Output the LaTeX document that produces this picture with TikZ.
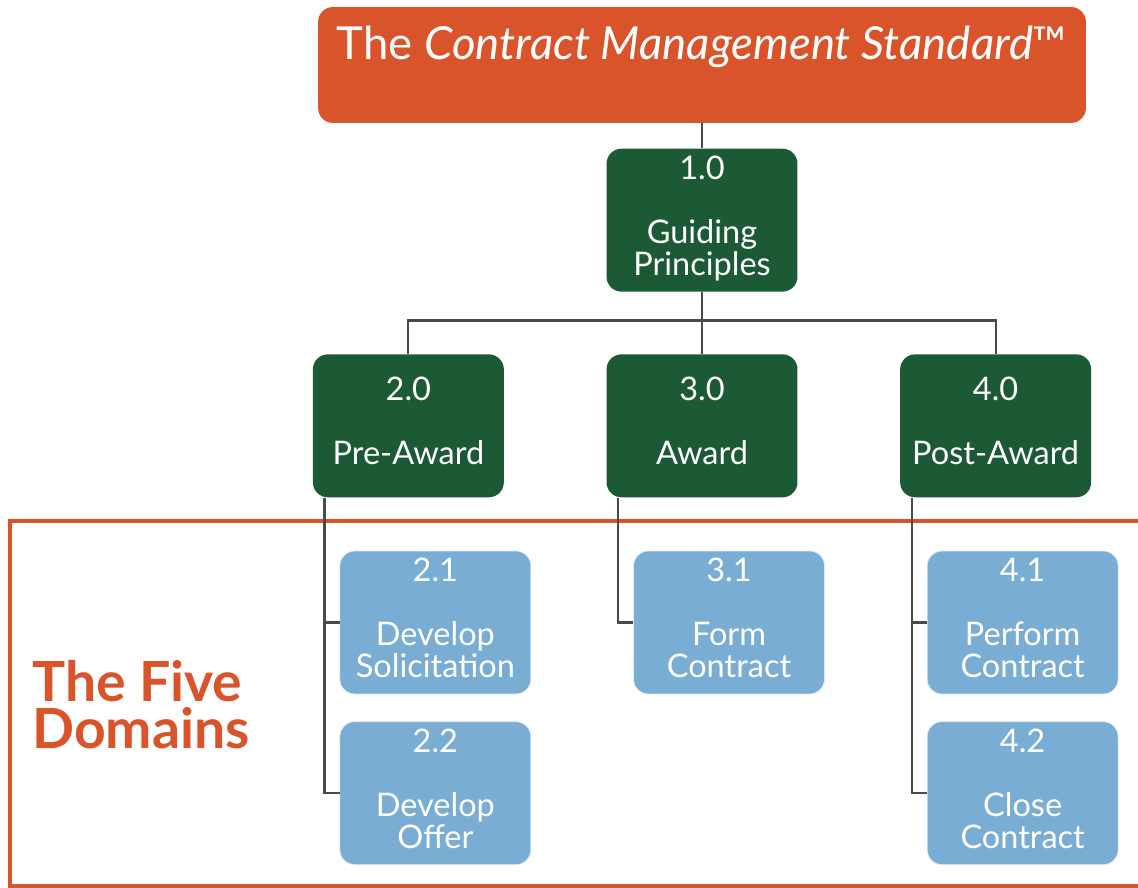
\documentclass[tikz,border=0pt]{standalone}
\usepackage{fontspec}
\setmainfont{Lato}
\usetikzlibrary{positioning}

\definecolor{cmsorange}{HTML}{D9542A}
\definecolor{cmsgreen}{HTML}{1B5A35}
\definecolor{cmsblue}{HTML}{79ADD4}
\definecolor{cmsgray}{HTML}{4A4A4A}

\begin{document}
\begin{tikzpicture}[
x=0.02cm, y=-0.02cm,
standard/.style={fill=cmsorange, rounded corners=0.3cm, text=white,
                 minimum width=15.36cm, inner ysep=0pt,
                 text height=30pt, text depth=36pt,
                 font=\fontsize{25.9}{30}\selectfont},
cellbox/.style={rounded corners=0.3cm, text=white,
            minimum width=3.82cm, minimum height=2.86cm,
            align=center, inner sep=0pt,
            execute at end node=\strut,
            font=\fontsize{18.5}{18.2}\selectfont},
areabox/.style={cellbox, fill=cmsgreen},
taskbox/.style={cellbox, fill=cmsblue, draw=white!75!cmsblue, line width=0.4pt},
link/.style={draw=cmsgray, line width=1.2pt},
framing/.style={draw=cmsorange, line width=2.3pt},
%tagtext/.style={text=cmsorange},
tagtext/.style={text=cmsorange, align=left, inner sep=0pt,
            font=\bfseries\fontsize{31.5}{26.8}\selectfont}
]
\useasboundingbox (0,0) rectangle (1138,888);

% five domains frame
\draw[framing] (1138,521) -| (10,886) -- (1138,886);
\node[tagtext, anchor=west] (five) at (32,705) {The Five\\Domains};

% standard + guiding principles
\node[standard] (std) at (702,65) {The \textit{Contract Management Standard}™};
\node[areabox, below=0.5cm of std] (d1) {1.0\\[18.2pt]Guiding\\Principles};

% domains
\node[areabox, below=1.24cm of d1] (d3) {3.0\\[18.2pt]Award};
\node[areabox, left=2.04cm of d3] (d2) {2.0\\[18.2pt]Pre-Award};
\node[areabox, right=2.04cm of d3] (d4) {4.0\\[18.2pt]Post-Award};

% tasks
\node[taskbox, anchor=north west] at ([xshift=0.54cm, yshift=-1.06cm]d2.south west) (t21) {2.1\\[18.2pt]Develop\\Solicitation};
\node[taskbox, below=0.54cm of t21] (t22) {2.2\\[18.2pt]Develop\\Offer};
\node[taskbox, anchor=north west] at ([xshift=0.54cm, yshift=-1.06cm]d3.south west) (t31) {3.1\\[18.2pt]Form\\Contract};
\node[taskbox, anchor=north west] at ([xshift=0.54cm, yshift=-1.06cm]d4.south west) (t41) {4.1\\[18.2pt]Perform\\Contract};
\node[taskbox, below=0.54cm of t41] (t42) {4.2\\[18.2pt]Close\\Contract};

% tree lines
\draw[link] (std) -- (d1);
\foreach \d in {d2, d3, d4} {
  \draw[link] (d1.south) -- ++(0,28.5) -| (\d.north);
}
\foreach \d/\t in {d2/t21, d2/t22, d3/t31, d4/t41, d4/t42} {
  \draw[link] ([xshift=0.24cm]\d.south west) |- (\t.west);
}

\end{tikzpicture}
\end{document}
